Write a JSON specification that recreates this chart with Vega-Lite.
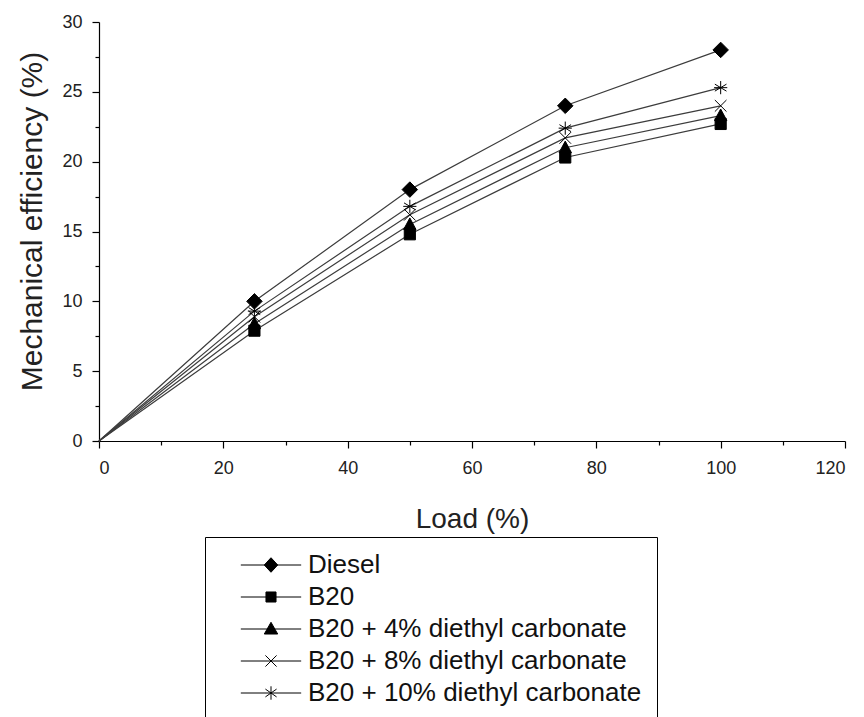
{
  "$schema": "https://vega.github.io/schema/vega-lite/v6.json",
  "autosize": "none",
  "width": 746,
  "height": 419,
  "padding": {"left": 99, "top": 22, "right": 19, "bottom": 276},
  "background": "white",
  "config": {
    "view": {"stroke": null},
    "font": "Liberation Sans",
    "axis": {"domainColor": "black", "tickColor": "black", "labelColor": "#222", "titleColor": "#222", "labelFont": "Liberation Sans", "titleFont": "Liberation Sans", "titleFontWeight": "normal", "grid": false}
  },
  "data": {
    "values": [
      {"series": "Diesel", "load": 0, "eff": 0},
      {"series": "Diesel", "load": 25, "eff": 10.0},
      {"series": "Diesel", "load": 50, "eff": 18.0},
      {"series": "Diesel", "load": 75, "eff": 24.0},
      {"series": "Diesel", "load": 100, "eff": 28.0},
      {"series": "B20", "load": 0, "eff": 0},
      {"series": "B20", "load": 25, "eff": 7.9},
      {"series": "B20", "load": 50, "eff": 14.8},
      {"series": "B20", "load": 75, "eff": 20.3},
      {"series": "B20", "load": 100, "eff": 22.7},
      {"series": "B20 + 4% diethyl carbonate", "load": 0, "eff": 0},
      {"series": "B20 + 4% diethyl carbonate", "load": 25, "eff": 8.4},
      {"series": "B20 + 4% diethyl carbonate", "load": 50, "eff": 15.5},
      {"series": "B20 + 4% diethyl carbonate", "load": 75, "eff": 21.0},
      {"series": "B20 + 4% diethyl carbonate", "load": 100, "eff": 23.3},
      {"series": "B20 + 8% diethyl carbonate", "load": 0, "eff": 0},
      {"series": "B20 + 8% diethyl carbonate", "load": 25, "eff": 8.9},
      {"series": "B20 + 8% diethyl carbonate", "load": 50, "eff": 16.2},
      {"series": "B20 + 8% diethyl carbonate", "load": 75, "eff": 21.7},
      {"series": "B20 + 8% diethyl carbonate", "load": 100, "eff": 24.0},
      {"series": "B20 + 10% diethyl carbonate", "load": 0, "eff": 0},
      {"series": "B20 + 10% diethyl carbonate", "load": 25, "eff": 9.3},
      {"series": "B20 + 10% diethyl carbonate", "load": 50, "eff": 16.8},
      {"series": "B20 + 10% diethyl carbonate", "load": 75, "eff": 22.4},
      {"series": "B20 + 10% diethyl carbonate", "load": 100, "eff": 25.3}
    ]
  },
  "layer": [
    {
      "mark": {"type": "line", "color": "#3c3c3c", "strokeWidth": 1.2},
      "encoding": {
        "x": {"field": "load", "type": "quantitative", "scale": {"domain": [0, 120], "nice": false, "zero": true},
          "axis": {"orient": "bottom", "values": [0, 20, 40, 60, 80, 100, 120], "tickSize": 7, "labelFontSize": 18, "labelPadding": 11, "title": "Load (%)", "titleFontSize": 28, "titlePadding": 28, "domainWidth": 1.2, "tickWidth": 1.2}},
        "y": {"field": "eff", "type": "quantitative", "scale": {"domain": [0, 30], "nice": false},
          "axis": {"orient": "left", "values": [0, 5, 10, 15, 20, 25, 30], "tickSize": 7, "labelFontSize": 18, "labelPadding": 10, "title": "Mechanical efficiency (%)", "titleFontSize": 30, "titlePadding": 14, "titleY": 199, "domainWidth": 1.2, "tickWidth": 1.2}},
        "detail": {"field": "series", "type": "nominal"}
      }
    },
    {
      "transform": [{"filter": "datum.load > 0"}],
      "mark": {"type": "point", "filled": true, "fill": "black", "stroke": "black", "strokeWidth": 1, "opacity": 1, "size": 240},
      "encoding": {
        "x": {"field": "load", "type": "quantitative",
          "axis": {"orient": "bottom", "values": [10, 30, 50, 70, 90, 110], "tickSize": 4, "labels": false, "title": null, "domain": false, "tickWidth": 1.2}},
        "y": {"field": "eff", "type": "quantitative",
          "axis": {"orient": "left", "values": [2.5, 7.5, 12.5, 17.5, 22.5, 27.5], "tickSize": 4, "labels": false, "title": null, "domain": false, "tickWidth": 1.2}},
        "shape": {"field": "series", "type": "nominal",
          "scale": {"domain": ["Diesel", "B20", "B20 + 4% diethyl carbonate", "B20 + 8% diethyl carbonate", "B20 + 10% diethyl carbonate"],
            "range": ["M0,-1L1,0L0,1L-1,0Z", "M-0.72,-0.72L0.72,-0.72L0.72,0.72L-0.72,0.72Z", "M0,-0.85L0.8,0.65L-0.8,0.65Z", "M-0.75,-0.75L0.75,0.75M-0.75,0.75L0.75,-0.75", "M0,-0.85L0,0.85M-0.75,-0.45L0.75,0.45M-0.75,0.45L0.75,-0.45M-0.85,0L0.85,0"]},
          "legend": null}
      }
    },
    {
      "transform": [{"filter": "false"}],
      "mark": {"type": "point", "filled": true, "fill": "black", "stroke": "black", "strokeWidth": 1, "opacity": 1, "size": 500},
      "encoding": {
        "shape": {"field": "series", "type": "nominal",
          "scale": {"domain": ["Diesel", "B20", "B20 + 4% diethyl carbonate", "B20 + 8% diethyl carbonate", "B20 + 10% diethyl carbonate"],
            "range": ["M-2.7,0L2.7,0M0,-0.65L0.6,0L0,0.65L-0.6,0Z", "M-2.7,0L2.7,0M-0.45,-0.45L0.45,-0.45L0.45,0.45L-0.45,0.45Z", "M-2.7,0L2.7,0M0,-0.6L0.6,0.45L-0.6,0.45Z", "M-2.7,0L2.7,0M-0.5,-0.5L0.5,0.5M-0.5,0.5L0.5,-0.5", "M-2.7,0L2.7,0M0,-0.6L0,0.6M-0.5,-0.35L0.5,0.35M-0.5,0.35L0.5,-0.35"]},
          "legend": {
            "orient": "none", "legendX": 106, "legendY": 515, "title": null,
            "strokeColor": "black", "fillColor": "white", "padding": 15, "cornerRadius": 0,
            "labelFontSize": 26, "labelFont": "Liberation Sans", "labelColor": "#111", "labelLimit": 600,
            "symbolSize": 500, "symbolOffset": 38, "labelOffset": 24, "rowPadding": 6, "symbolStrokeWidth": 1
          }}
      }
    }
  ],
  "resolve": {"axis": {"x": "independent", "y": "independent"}, "scale": {"shape": "independent"}}
}
